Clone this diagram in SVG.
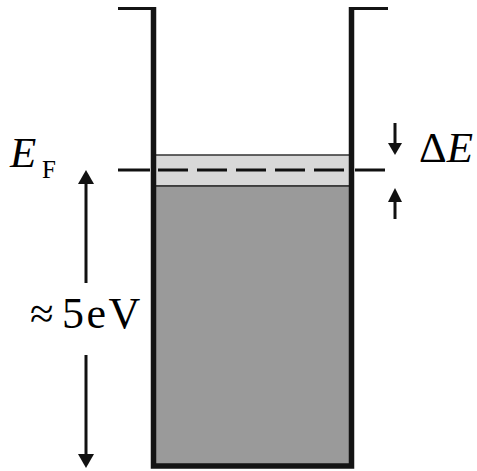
<svg xmlns="http://www.w3.org/2000/svg" width="477" height="471" viewBox="0 0 477 471">
<style>
.wall{fill:none;stroke:#141414;stroke-width:5.5;stroke-linejoin:miter}
.lid{fill:none;stroke:#141414;stroke-width:3}
.arr{stroke:#111;stroke-width:3;fill:none}
.head{fill:#111}
text{font-family:'Liberation Serif','Times New Roman','DejaVu Serif',serif;fill:#000}
</style>
<rect x="0" y="0" width="477" height="471" fill="#fff"/>
<g id="well">
<rect x="155" y="155" width="196" height="31" fill="#d8d8d8" stroke="#333" stroke-width="1.5"/>
<rect x="155" y="186.5" width="196" height="278" fill="#9a9a9a"/>
<line x1="155" y1="186" x2="351" y2="186" stroke="#333" stroke-width="1.5"/>
<path class="lid" d="M118,8.5 H153"/>
<path class="lid" d="M352,8.5 H388"/>
<path class="wall" d="M153.5,7 V466 H351.5 V7"/>
</g>
<g id="fermi">
<line x1="118" y1="170" x2="150" y2="170" stroke="#111" stroke-width="3"/>
<line x1="158" y1="170" x2="349" y2="170" stroke="#111" stroke-width="3" stroke-dasharray="30,9"/>
<line x1="355" y1="170" x2="385" y2="170" stroke="#111" stroke-width="3"/>
</g>
<g id="connectors">
<line class="arr" x1="86" y1="182" x2="86" y2="283"/>
<path class="head" d="M86,170 L78,184 L94,184 Z"/>
<line class="arr" x1="86" y1="355" x2="86" y2="456"/>
<path class="head" d="M86,468 L78,454 L94,454 Z"/>
<line class="arr" x1="395" y1="123" x2="395" y2="145"/>
<path class="head" d="M395,155 L388,143 L402,143 Z"/>
<line class="arr" x1="395" y1="200" x2="395" y2="219"/>
<path class="head" d="M395,188 L388,202 L402,202 Z"/>
</g>
<g id="labels">
<text x="10" y="167" font-size="43" font-style="italic">E</text>
<text x="42" y="178" font-size="25">F</text>
<text x="419" y="162" font-size="43">Δ<tspan font-style="italic">E</tspan></text>
<text x="30" y="328" font-size="43">≈</text>
<text x="62" y="328" font-size="44" letter-spacing="2.5">5eV</text>
</g>
</svg>
